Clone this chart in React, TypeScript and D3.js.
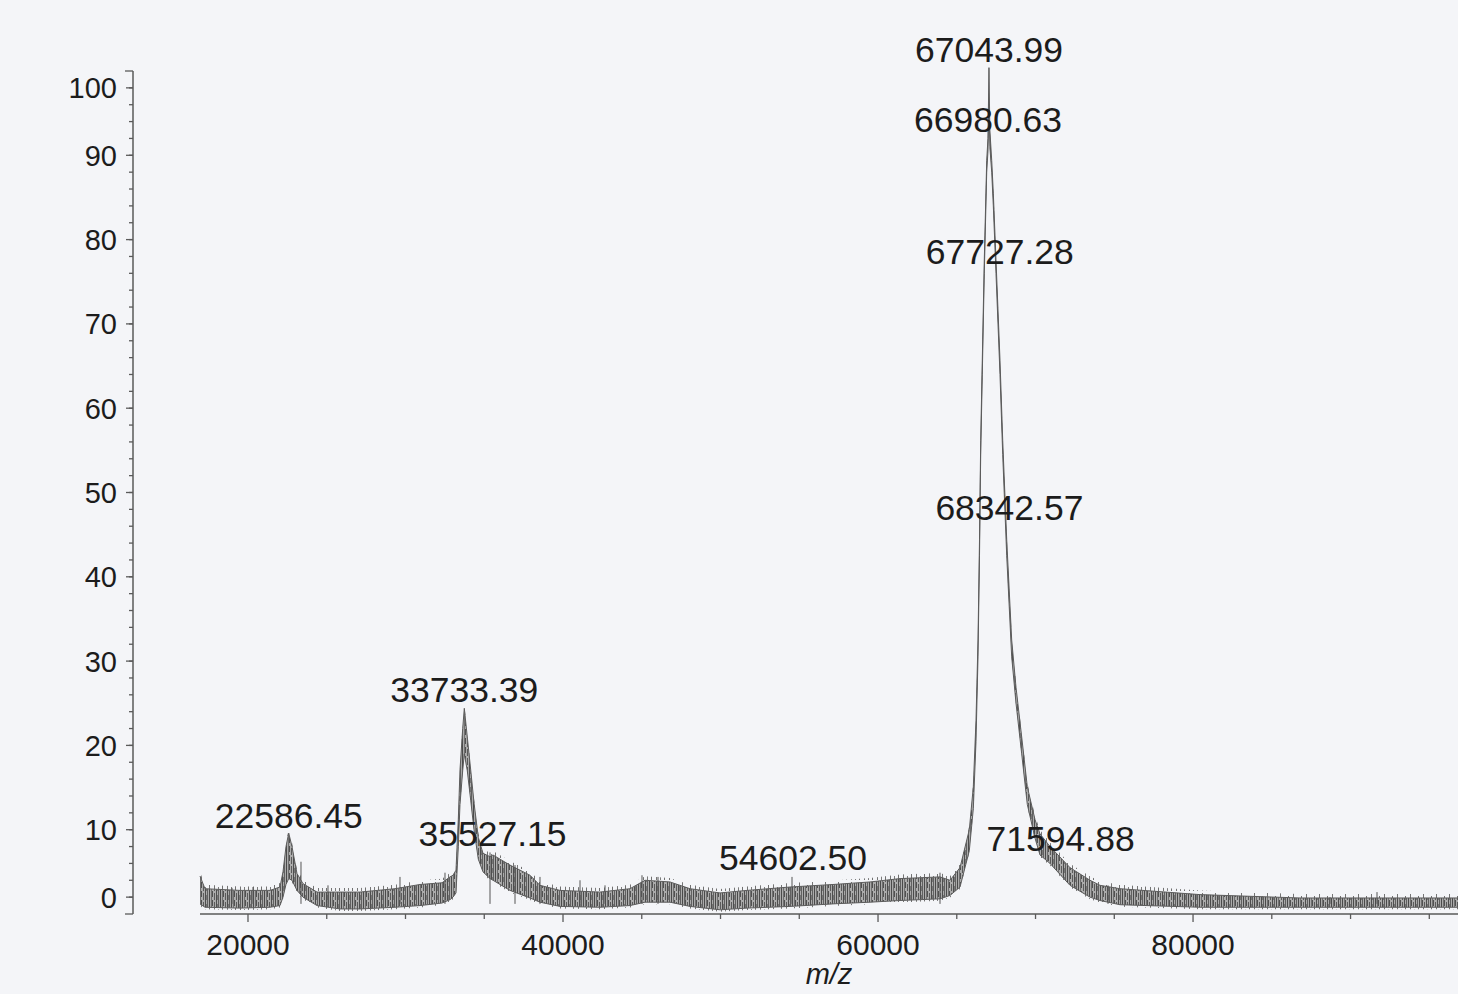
import React from 'react';
import * as d3 from 'd3';

// Spectrum envelope (m/z, upper and lower edge of the noisy trace, % intensity)
const mzValues = [
  16953, 17270, 19492, 21397, 22032, 22222, 22413, 22586, 22794, 23111, 23492, 24381, 25841, 27111,
  29333, 30920, 32317, 32825, 33016, 33206, 33352, 33460, 33631, 33733, 33923, 34139, 34349, 34622,
  34920, 35365, 35555, 36634, 37904, 38539, 39809, 42349, 44253, 45205, 46793, 48063, 49968, 51682,
  54412, 57142, 59491, 61396, 63935, 64570, 65205, 65795, 66050, 66221, 66348, 66443, 66518, 66620,
  66747, 66900, 66981, 67044, 67100, 67218, 67320, 67490, 67744, 67916, 68170, 68487, 68760, 69122,
  69478, 69967, 70284, 70919, 72189, 73459, 74093, 75363, 80442, 86791, 96822,
];
const upperIntensity = [
  4.5, 3.0, 2.8, 2.8, 3.2, 5.0, 8.0, 9.6, 8.0, 4.8, 3.6, 2.6, 2.6, 2.6,
  3.0, 3.5, 3.7, 4.4, 4.6, 5.2, 11.2, 17.1, 22.0, 24.4, 21.0, 17.1, 13.2, 9.1,
  7.2, 6.8, 7.0, 5.8, 4.6, 3.4, 2.8, 2.6, 3.0, 4.0, 3.8, 3.0, 2.5, 2.8,
  3.2, 3.5, 3.8, 4.2, 4.4, 4.0, 5.5, 10.0, 15.1, 23.0, 32.5, 44.4, 56.2, 65.7,
  77.6, 89.4, 92.0, 100.4, 93.0, 89.4, 85.5, 77.6, 65.7, 56.2, 44.4, 32.5, 26.9, 21.0,
  15.1, 11.2, 9.5, 8.0, 5.5, 4.0, 3.4, 3.0, 2.3, 1.9, 1.9,
];
const lowerIntensity = [
  1.2, 0.8, 0.7, 0.8, 1.0, 2.0, 3.5, 4.2, 4.0, 2.8, 2.0, 1.0, 0.6, 0.6,
  0.8, 1.0, 1.3, 1.7, 2.0, 2.5, 8.0, 13.0, 17.0, 19.0, 17.0, 13.5, 10.0, 6.5,
  5.0, 4.2, 4.0, 2.8, 1.9, 1.4, 0.9, 0.8, 1.0, 1.4, 1.4, 0.9, 0.5, 0.7,
  0.9, 1.2, 1.4, 1.6, 1.8, 2.2, 3.2, 7.5, 12.5, 20.5, 30.5, 42.5, 54.5, 64.0,
  76.0, 88.0, 90.5, 96.0, 91.0, 88.0, 84.0, 76.0, 64.0, 54.5, 42.5, 30.5, 25.0, 19.0,
  13.0, 9.0, 7.0, 6.0, 3.4, 2.0, 1.6, 1.1, 0.8, 0.8, 0.8,
];

// Isolated noise spikes visible above the trace
const spikeMz = [18984, 20317, 23365, 25079, 29650, 32507, 35365, 36952, 38539, 41079, 42666, 45015, 46031, 47745, 54539, 63935, 74601, 88696, 91680];
const spikeIntensity = [3.1, 3.2, 6.2, 3.4, 4.4, 4.9, 7.3, 5.8, 4.4, 4.0, 3.4, 4.6, 4.4, 3.2, 4.4, 4.9, 3.4, 2.0, 2.6];

// Peak annotations
const peakLabels = ['67043.99', '66980.63', '67727.28', '68342.57', '33733.39', '35527.15', '22586.45', '54602.50', '71594.88'];
const peakLabelIntensity = [100.4, 92, 76.4, 46, 24.4, 7.4, 9.5, 4.5, 6.8];

// Axis ticks
const yTickLabels = ['0', '10', '20', '30', '40', '50', '60', '70', '80', '90', '100'];
const yTickPositions = [2, 10, 20, 30, 40, 50, 60, 70, 80, 90, 98];
const yMinorStep = 2;
const xMajorTicks = [20000, 40000, 60000, 80000];
const xMinorStep = 5000;
const xAxisLabel = 'm/z';

const W = 1458;
const H = 994;

type P = { m: number; hi: number; lo: number };

export default function App() {
  const x = d3.scaleLinear().domain([16953, 96822]).range([200, 1458]);
  const y = d3.scaleLinear().domain([0, 100]).range([914, 71]);

  const pts: P[] = mzValues.map((m, i) => ({ m, hi: upperIntensity[i], lo: lowerIntensity[i] }));
  const band = d3.area<P>().x((d) => x(d.m)).y0((d) => y(d.lo)).y1((d) => y(d.hi));
  const fuzzTop = d3.area<P>().x((d) => x(d.m)).y0((d) => y(d.hi)).y1((d) => y(d.hi) - 4);
  const fuzzBottom = d3.area<P>().x((d) => x(d.m)).y0((d) => y(d.lo) + 2).y1((d) => y(d.lo));
  const hiLine = d3.line<P>().x((d) => x(d.m)).y((d) => y(d.hi));
  const loLine = d3.line<P>().x((d) => x(d.m)).y((d) => y(d.lo));

  const yMinor = d3.range(0, 100 + 0.001, yMinorStep);
  const [xd0, xd1] = x.domain();
  const xMinor = d3.range(Math.ceil(xd0 / xMinorStep) * xMinorStep, xd1, xMinorStep);

  const axisColor = '#5a5a5a';
  const textColor = '#1c1c1c';
  const font = "'Liberation Sans', Arial, sans-serif";
  const axisX = 133;
  const axisY = y(0);

  return (
    <svg width={W} height={H} style={{ position: 'absolute', left: 0, top: 0, background: '#f4f5f8' }} fontFamily={font}>
      <defs>
        <pattern id="noise" width="11" height="9" patternUnits="userSpaceOnUse">
          <rect width="11" height="9" fill="#ababab" />
          <rect x="0" width="1" height="9" fill="#4a4a4a" />
          <rect x="2" width="1" height="9" fill="#707070" />
          <rect x="3" width="1" height="6" fill="#505050" />
          <rect x="5" y="2" width="1" height="7" fill="#5a5a5a" />
          <rect x="7" width="1" height="9" fill="#4e4e4e" />
          <rect x="8" y="4" width="1" height="5" fill="#767676" />
          <rect x="9" width="1" height="9" fill="#606060" />
        </pattern>
        <pattern id="whisker" width="13" height="11" patternUnits="userSpaceOnUse">
          <rect x="1" y="5" width="1" height="6" fill="#707070" />
          <rect x="6" y="2" width="1" height="9" fill="#747474" />
          <rect x="10" y="7" width="1" height="4" fill="#7c7c7c" />
        </pattern>
      </defs>
      <rect width={W} height={H} fill="#f4f5f8" />

      {/* Y axis */}
      <line x1={axisX} x2={axisX} y1={y(0)} y2={y(100)} stroke={axisColor} strokeWidth={1.5} />
      {yMinor.map((v) => (
        <line key={'ym' + v} x1={axisX - (v === 0 || v === 100 ? 8 : 4)} x2={axisX} y1={y(v)} y2={y(v)} stroke={axisColor} strokeWidth={1.3} />
      ))}
      {yTickPositions.map((v, i) => (
        <g key={'yt' + i}>
          <line x1={axisX - 7} x2={axisX} y1={y(v)} y2={y(v)} stroke={axisColor} strokeWidth={1.3} />
          <text x={117} y={y(v)} dy="0.36em" textAnchor="end" fontSize={29} fill={textColor}>
            {yTickLabels[i]}
          </text>
        </g>
      ))}

      {/* X axis */}
      <line x1={x(xd0)} x2={x(xd1)} y1={axisY} y2={axisY} stroke={axisColor} strokeWidth={1.5} />
      {xMinor.map((v) => (
        <line key={'xm' + v} x1={x(v)} x2={x(v)} y1={axisY} y2={axisY + (xMajorTicks.includes(v) ? 8 : 5)} stroke={axisColor} strokeWidth={1.3} />
      ))}
      {xMajorTicks.map((v) => (
        <text key={'xt' + v} x={x(v)} y={axisY + 41} textAnchor="middle" fontSize={30} fill={textColor}>
          {v}
        </text>
      ))}
      <text x={(x(xd0) + x(xd1)) / 2} y={axisY + 70} textAnchor="middle" fontSize={29} fontStyle="italic" fill={textColor}>
        {xAxisLabel}
      </text>

      {/* Spectrum */}
      <path d={fuzzTop(pts) || ''} fill="url(#whisker)" stroke="none" />
      <path d={fuzzBottom(pts) || ''} fill="url(#whisker)" stroke="none" />
      <path d={band(pts) || ''} fill="url(#noise)" stroke="none" />
      <path d={hiLine(pts) || ''} fill="none" stroke="#5c5c5c" strokeWidth={1} />
      <path d={loLine(pts) || ''} fill="none" stroke="#5c5c5c" strokeWidth={1} />
      {spikeMz.map((m, i) => (
        <line key={'sp' + i} x1={x(m)} x2={x(m)} y1={y(spikeIntensity[i])} y2={y(1.2)} stroke="#555" strokeWidth={1} />
      ))}

      {/* Peak labels */}
      {peakLabels.map((l, i) => (
        <text key={'pl' + i} x={x(parseFloat(l))} y={y(peakLabelIntensity[i]) - 6} textAnchor="middle" fontSize={35.5} fill={textColor}>
          {l}
        </text>
      ))}
    </svg>
  );
}
